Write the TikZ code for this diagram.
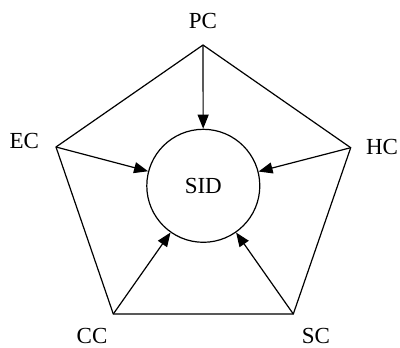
\documentclass[tikz,border=0pt]{standalone}
\usepackage{fontspec}
\setmainfont{Liberation Serif}
\usetikzlibrary{arrows.meta}
\begin{document}
\begin{tikzpicture}[x=1pt,y=-1pt,
  edge/.style={line width=1.2pt},
  arr/.style={line width=1.2pt,-{Triangle[length=14pt,width=11pt]}},
  lbl/.style={inner sep=0pt,font=\fontsize{23}{26}\selectfont}]
\useasboundingbox (0,0) rectangle (400,348);
\coordinate (pc) at (203,45);
\coordinate (hc) at (350.7,147.7);
\coordinate (sc) at (293.3,314);
\coordinate (cc) at (113.3,314);
\coordinate (ec) at (56,147);
\node[draw,circle,line width=1.2pt,minimum size=113pt,inner sep=0pt,font=\fontsize{23}{26}\selectfont] (sid) at (203.3,185.8) {SID};
\draw[edge,line join=miter] (pc) -- (hc) -- (sc) -- (cc) -- (ec) -- cycle;
\foreach \v in {pc,hc,sc,cc,ec}{\draw[arr] (\v) -- (sid);}
\node[lbl] (lpc) at (203,21) {PC};
\node[lbl] (lec) at (24.3,141) {EC};
\node[lbl] (lhc) at (382,146.5) {HC};
\node[lbl] (lcc) at (92,336) {CC};
\node[lbl] (lsc) at (316,336) {SC};
\end{tikzpicture}
\end{document}
